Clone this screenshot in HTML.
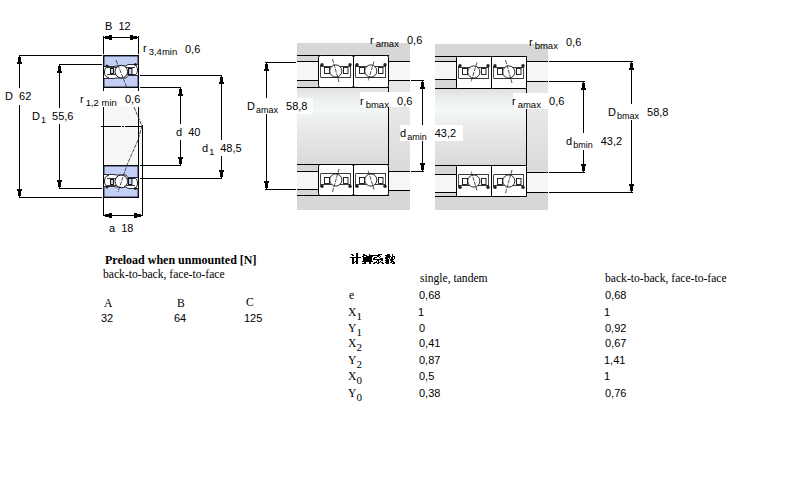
<!DOCTYPE html>
<html><head><meta charset="utf-8"><style>
html,body{margin:0;padding:0;background:#fff;width:800px;height:500px;overflow:hidden;position:relative}
.t{position:absolute;white-space:nowrap;line-height:normal;color:#000}
.sub{font-size:9px;position:relative;top:3px;margin-left:1px;margin-right:2px}
.s1{margin-right:0}
.sr{margin-left:2px;font-size:9.5px}
.subs{font-size:11px;position:relative;top:4px}
body.textonly svg{display:none}
svg.d{position:absolute;left:0;top:0}
</style></head><body>
<svg class="d" width="800" height="500" viewBox="0 0 800 500" shape-rendering="geometricPrecision">
<defs><linearGradient id="shaft" x1="0" y1="0" x2="0" y2="1">
<stop offset="0" stop-color="#e0e0e0"/><stop offset="0.12" stop-color="#eaeeee"/><stop offset="0.28" stop-color="#f3f7f7"/><stop offset="0.5" stop-color="#ebebeb"/><stop offset="1" stop-color="#d9d9d9"/></linearGradient>
<linearGradient id="shoulder" x1="0" y1="0" x2="0" y2="1"><stop offset="0" stop-color="#e6e6e6"/><stop offset="0.3" stop-color="#e8e8e8"/><stop offset="1" stop-color="#dadada"/></linearGradient></defs>
<rect x="104" y="107" width="38" height="58" fill="#f7f7f7"/>
<rect x="103" y="36" width="1" height="18" fill="#000"/>
<rect x="138" y="36" width="1" height="18" fill="#000"/>
<rect x="103" y="88" width="1" height="3" fill="#000"/>
<rect x="138" y="88" width="1" height="3" fill="#000"/>
<rect x="103" y="107" width="1" height="58" fill="#000"/>
<rect x="138" y="107" width="1" height="58" fill="#000"/>
<rect x="103" y="198" width="1" height="18" fill="#000"/>
<rect x="104" y="37" width="34" height="1" fill="#000"/>
<polygon points="104,37 104,38 105,38 105,39 109,39 109,40 112,40 112,35 109,35 109,36 105,36 105,37" fill="#000"/>
<polygon points="138,37 138,38 137,38 137,39 133,39 133,40 130,40 130,35 133,35 133,36 137,36 137,37" fill="#000"/>
<rect x="19" y="55" width="83" height="1" fill="#000"/>
<rect x="59" y="64" width="43" height="1" fill="#000"/>
<rect x="140" y="75" width="82" height="1" fill="#000"/>
<rect x="140" y="87" width="41" height="1" fill="#000"/>
<rect x="140" y="165" width="41" height="1" fill="#000"/>
<rect x="140" y="178" width="82" height="1" fill="#000"/>
<rect x="59" y="188" width="43" height="1" fill="#000"/>
<rect x="19" y="197" width="83" height="1" fill="#000"/>
<rect x="19" y="56" width="1" height="33" fill="#000"/>
<rect x="19" y="105" width="1" height="92" fill="#000"/>
<polygon points="19,56 20,56 20,57 21,57 21,62 22,62 22,64 17,64 17,62 18,62 18,57 19,57" fill="#000"/>
<polygon points="19,197 20,197 20,196 21,196 21,191 22,191 22,189 17,189 17,191 18,191 18,196 19,196" fill="#000"/>
<rect x="59" y="65" width="1" height="43" fill="#000"/>
<rect x="59" y="124" width="1" height="64" fill="#000"/>
<polygon points="59,65 60,65 60,66 61,66 61,71 62,71 62,73 57,73 57,71 58,71 58,66 59,66" fill="#000"/>
<polygon points="59,188 60,188 60,187 61,187 61,182 62,182 62,180 57,180 57,182 58,182 58,187 59,187" fill="#000"/>
<rect x="180" y="88" width="1" height="36" fill="#000"/>
<rect x="180" y="140" width="1" height="25" fill="#000"/>
<polygon points="180,88 181,88 181,89 182,89 182,94 183,94 183,96 178,96 178,94 179,94 179,89 180,89" fill="#000"/>
<polygon points="180,165 181,165 181,164 182,164 182,159 183,159 183,157 178,157 178,159 179,159 179,164 180,164" fill="#000"/>
<rect x="221" y="76" width="1" height="64" fill="#000"/>
<rect x="221" y="156" width="1" height="22" fill="#000"/>
<polygon points="221,76 222,76 222,77 223,77 223,82 224,82 224,84 219,84 219,82 220,82 220,77 221,77" fill="#000"/>
<polygon points="221,178 222,178 222,177 223,177 223,172 224,172 224,170 219,170 219,172 220,172 220,177 221,177" fill="#000"/>
<rect x="142" y="125" width="1" height="91" fill="#000"/>
<rect x="101" y="126" width="20" height="1" fill="#000"/>
<rect x="122" y="126" width="2" height="1" fill="#000"/>
<rect x="125" y="126" width="18" height="1" fill="#000"/>
<rect x="104" y="215" width="38" height="1" fill="#000"/>
<polygon points="104,215 104,216 105,216 105,217 109,217 109,218 112,218 112,213 109,213 109,214 105,214 105,215" fill="#000"/>
<polygon points="142,215 142,216 141,216 141,217 137,217 137,218 134,218 134,213 137,213 137,214 141,214 141,215" fill="#000"/>
<g transform="translate(103,88) scale(1,-1)">
<rect x="0.5" y="0.5" width="35" height="32" fill="#fff" stroke="#000"/>
<polygon points="1,1 35,1 35,12.5 25,12.5 23,10 13,10 11,9.5 1,9.5" fill="#c4cff5" stroke="#1a1a2a" stroke-width="0.9"/>
<polygon points="1,32 35,32 35,23.5 25,23.5 23,22 13,22 11,21.5 1,21.5" fill="#c4cff5" stroke="#1a1a2a" stroke-width="0.9"/>
<path d="M4,13.5 H13 M24,13.5 H32 M4,20.5 H32" stroke="#222" stroke-width="0.9" fill="none"/>
<rect x="7.5" y="14.5" width="3" height="5" fill="#c4cff5" stroke="#000" stroke-width="0.9"/>
<rect x="25.5" y="13.5" width="3.5" height="6" fill="#c4cff5" stroke="#000" stroke-width="0.9"/>
<circle cx="18.3" cy="16.4" r="6.3" fill="#fff" stroke="#000" stroke-width="0.9"/>
<path d="M6,10.5 Q1.5,10.5 1.5,16 Q1.5,21.5 6,21.5 M30,12.5 Q34.5,12.5 34.5,18 Q34.5,23.5 30,23.5" stroke="#222" stroke-width="1" fill="none"/>
<circle cx="4" cy="22" r="1.5" fill="#222"/><circle cx="32.5" cy="23.5" r="1.5" fill="#222"/>
</g>
<g transform="translate(103,165)">
<rect x="0.5" y="0.5" width="35" height="32" fill="#fff" stroke="#000"/>
<polygon points="1,1 35,1 35,12.5 25,12.5 23,10 13,10 11,9.5 1,9.5" fill="#c4cff5" stroke="#1a1a2a" stroke-width="0.9"/>
<polygon points="1,32 35,32 35,23.5 25,23.5 23,22 13,22 11,21.5 1,21.5" fill="#c4cff5" stroke="#1a1a2a" stroke-width="0.9"/>
<path d="M4,13.5 H13 M24,13.5 H32 M4,20.5 H32" stroke="#222" stroke-width="0.9" fill="none"/>
<rect x="7.5" y="14.5" width="3" height="5" fill="#c4cff5" stroke="#000" stroke-width="0.9"/>
<rect x="25.5" y="13.5" width="3.5" height="6" fill="#c4cff5" stroke="#000" stroke-width="0.9"/>
<circle cx="18.3" cy="16.4" r="6.3" fill="#fff" stroke="#000" stroke-width="0.9"/>
<path d="M6,10.5 Q1.5,10.5 1.5,16 Q1.5,21.5 6,21.5 M30,12.5 Q34.5,12.5 34.5,18 Q34.5,23.5 30,23.5" stroke="#222" stroke-width="1" fill="none"/>
<circle cx="4" cy="22" r="1.5" fill="#222"/><circle cx="32.5" cy="23.5" r="1.5" fill="#222"/>
</g>
<path d="M116,60 L127,88 M134,107 L142,126 L138,140 L127,165 L118,192" stroke="#283040" stroke-width="0.85" stroke-dasharray="4,1" fill="none"/>
<rect x="297" y="43" width="113" height="12" fill="#d7d7d7"/>
<rect x="389" y="55" width="21" height="6" fill="#d7d7d7"/>
<rect x="297" y="56" width="21" height="5" fill="#d7d7d7"/>
<rect x="297" y="81" width="21" height="6" fill="#d7d7d7"/>
<rect x="297" y="62" width="21" height="18" fill="#f6f6f6"/>
<rect x="389" y="62" width="21" height="18" fill="#f6f6f6"/>
<rect x="297" y="172" width="21" height="17" fill="#f6f6f6"/>
<rect x="389" y="172" width="21" height="18" fill="#f6f6f6"/>
<rect x="389" y="81" width="21" height="90" fill="url(#shoulder)"/>
<rect x="297" y="88" width="92" height="76" fill="url(#shaft)"/>
<rect x="297" y="165" width="21" height="6" fill="#d7d7d7"/>
<rect x="297" y="190" width="21" height="5" fill="#d7d7d7"/>
<rect x="297" y="196" width="92" height="14" fill="#d7d7d7"/>
<rect x="389" y="191" width="21" height="19" fill="#d7d7d7"/>
<rect x="297" y="55" width="92" height="1" fill="#000"/>
<rect x="297" y="61" width="22" height="1" fill="#000"/>
<rect x="297" y="80" width="22" height="1" fill="#000"/>
<rect x="297" y="87" width="92" height="1" fill="#000"/>
<rect x="389" y="61" width="21" height="1" fill="#000"/>
<rect x="389" y="80" width="21" height="1" fill="#000"/>
<rect x="297" y="164" width="92" height="1" fill="#000"/>
<rect x="297" y="171" width="22" height="1" fill="#000"/>
<rect x="297" y="189" width="22" height="1" fill="#000"/>
<rect x="297" y="195" width="92" height="1" fill="#000"/>
<rect x="389" y="171" width="21" height="1" fill="#000"/>
<rect x="389" y="190" width="21" height="1" fill="#000"/>
<rect x="388" y="87" width="1" height="78" fill="#000"/>
<rect x="435" y="44" width="113" height="12" fill="#d7d7d7"/>
<rect x="527" y="56" width="21" height="5" fill="#d7d7d7"/>
<rect x="435" y="57" width="21" height="4" fill="#d7d7d7"/>
<rect x="435" y="80" width="21" height="8" fill="#d7d7d7"/>
<rect x="435" y="62" width="21" height="17" fill="#f6f6f6"/>
<rect x="527" y="62" width="21" height="19" fill="#f6f6f6"/>
<rect x="435" y="175" width="21" height="17" fill="#f6f6f6"/>
<rect x="527" y="173" width="21" height="19" fill="#f6f6f6"/>
<rect x="527" y="82" width="21" height="90" fill="url(#shoulder)"/>
<rect x="435" y="89" width="92" height="76" fill="url(#shaft)"/>
<rect x="435" y="166" width="21" height="8" fill="#d7d7d7"/>
<rect x="435" y="193" width="21" height="3" fill="#d7d7d7"/>
<rect x="435" y="197" width="92" height="13" fill="#d7d7d7"/>
<rect x="527" y="193" width="21" height="17" fill="#d7d7d7"/>
<rect x="435" y="56" width="92" height="1" fill="#000"/>
<rect x="435" y="61" width="22" height="1" fill="#000"/>
<rect x="435" y="79" width="22" height="1" fill="#000"/>
<rect x="435" y="88" width="92" height="1" fill="#000"/>
<rect x="527" y="61" width="21" height="1" fill="#000"/>
<rect x="527" y="81" width="21" height="1" fill="#000"/>
<rect x="435" y="165" width="92" height="1" fill="#000"/>
<rect x="435" y="174" width="22" height="1" fill="#000"/>
<rect x="435" y="192" width="22" height="1" fill="#000"/>
<rect x="435" y="196" width="92" height="1" fill="#000"/>
<rect x="527" y="172" width="21" height="1" fill="#000"/>
<rect x="527" y="192" width="21" height="1" fill="#000"/>
<rect x="526" y="88" width="1" height="78" fill="#000"/>
<g transform="translate(318,55)">
<rect x="0.5" y="0.5" width="35" height="32" rx="2" fill="#fff" stroke="#000"/>
<path d="M3,11.5 H33 M2.5,22.5 H33" stroke="#222" stroke-width="0.9" fill="none"/>
<rect x="6.5" y="12.5" width="5" height="6" fill="#fff" stroke="#111" stroke-width="0.9"/>
<rect x="25.5" y="12.5" width="4.5" height="6" fill="#fff" stroke="#111" stroke-width="0.9"/>
<circle cx="17.8" cy="16" r="6.1" fill="#fff" stroke="#111" stroke-width="0.9"/>
<path d="M2.5,10 V22 M32.5,10.5 V22" stroke="#333" stroke-width="0.9"/>
<circle cx="4" cy="9.8" r="1.7" fill="#222"/><circle cx="32" cy="9.8" r="1.7" fill="#222"/>
<path d="M14.5,4 L21,27" stroke="#283040" stroke-width="0.85" stroke-dasharray="4,1"/>
</g>
<g transform="translate(353,55)">
<rect x="0.5" y="0.5" width="35" height="32" rx="2" fill="#fff" stroke="#000"/>
<path d="M3,11.5 H33 M2.5,22.5 H33" stroke="#222" stroke-width="0.9" fill="none"/>
<rect x="6.5" y="12.5" width="5" height="6" fill="#fff" stroke="#111" stroke-width="0.9"/>
<rect x="25.5" y="12.5" width="4.5" height="6" fill="#fff" stroke="#111" stroke-width="0.9"/>
<circle cx="17.8" cy="16" r="6.1" fill="#fff" stroke="#111" stroke-width="0.9"/>
<path d="M2.5,10 V22 M32.5,10.5 V22" stroke="#333" stroke-width="0.9"/>
<circle cx="4" cy="9.8" r="1.7" fill="#222"/><circle cx="32" cy="9.8" r="1.7" fill="#222"/>
<path d="M21,6.5 L15,26" stroke="#283040" stroke-width="0.85" stroke-dasharray="4,1"/>
</g>
<g transform="translate(318,196) scale(1,-1)">
<rect x="0.5" y="0.5" width="35" height="31" rx="2" fill="#fff" stroke="#000"/>
<path d="M3,11.5 H33 M2.5,22.5 H33" stroke="#222" stroke-width="0.9" fill="none"/>
<rect x="6.5" y="12.5" width="5" height="6" fill="#fff" stroke="#111" stroke-width="0.9"/>
<rect x="25.5" y="12.5" width="4.5" height="6" fill="#fff" stroke="#111" stroke-width="0.9"/>
<circle cx="17.8" cy="16" r="6.1" fill="#fff" stroke="#111" stroke-width="0.9"/>
<path d="M2.5,10 V22 M32.5,10.5 V22" stroke="#333" stroke-width="0.9"/>
<circle cx="4" cy="9.8" r="1.7" fill="#222"/><circle cx="32" cy="9.8" r="1.7" fill="#222"/>
<path d="M14.5,4 L21,27" stroke="#283040" stroke-width="0.85" stroke-dasharray="4,1"/>
</g>
<g transform="translate(353,196) scale(1,-1)">
<rect x="0.5" y="0.5" width="35" height="31" rx="2" fill="#fff" stroke="#000"/>
<path d="M3,11.5 H33 M2.5,22.5 H33" stroke="#222" stroke-width="0.9" fill="none"/>
<rect x="6.5" y="12.5" width="5" height="6" fill="#fff" stroke="#111" stroke-width="0.9"/>
<rect x="25.5" y="12.5" width="4.5" height="6" fill="#fff" stroke="#111" stroke-width="0.9"/>
<circle cx="17.8" cy="16" r="6.1" fill="#fff" stroke="#111" stroke-width="0.9"/>
<path d="M2.5,10 V22 M32.5,10.5 V22" stroke="#333" stroke-width="0.9"/>
<circle cx="4" cy="9.8" r="1.7" fill="#222"/><circle cx="32" cy="9.8" r="1.7" fill="#222"/>
<path d="M21,6.5 L15,26" stroke="#283040" stroke-width="0.85" stroke-dasharray="4,1"/>
</g>
<g transform="translate(456,56)">
<rect x="0.5" y="0.5" width="35" height="32" rx="0.8" fill="#fff" stroke="#000"/>
<path d="M3,11.5 H33 M2.5,22.5 H33" stroke="#222" stroke-width="0.9" fill="none"/>
<rect x="6.5" y="12.5" width="5" height="6" fill="#fff" stroke="#111" stroke-width="0.9"/>
<rect x="25.5" y="12.5" width="4.5" height="6" fill="#fff" stroke="#111" stroke-width="0.9"/>
<circle cx="17.8" cy="16" r="6.1" fill="#fff" stroke="#111" stroke-width="0.9"/>
<path d="M2.5,10 V22 M32.5,10.5 V22" stroke="#333" stroke-width="0.9"/>
<circle cx="4" cy="9.8" r="1.7" fill="#222"/><circle cx="32" cy="9.8" r="1.7" fill="#222"/>
<path d="M21,6.5 L15,26" stroke="#283040" stroke-width="0.85" stroke-dasharray="4,1"/>
</g>
<g transform="translate(491,56)">
<rect x="0.5" y="0.5" width="35" height="32" rx="0.8" fill="#fff" stroke="#000"/>
<path d="M3,11.5 H33 M2.5,22.5 H33" stroke="#222" stroke-width="0.9" fill="none"/>
<rect x="6.5" y="12.5" width="5" height="6" fill="#fff" stroke="#111" stroke-width="0.9"/>
<rect x="25.5" y="12.5" width="4.5" height="6" fill="#fff" stroke="#111" stroke-width="0.9"/>
<circle cx="17.8" cy="16" r="6.1" fill="#fff" stroke="#111" stroke-width="0.9"/>
<path d="M2.5,10 V22 M32.5,10.5 V22" stroke="#333" stroke-width="0.9"/>
<circle cx="4" cy="9.8" r="1.7" fill="#222"/><circle cx="32" cy="9.8" r="1.7" fill="#222"/>
<path d="M14.5,4 L21,27" stroke="#283040" stroke-width="0.85" stroke-dasharray="4,1"/>
</g>
<g transform="translate(456,197) scale(1,-1)">
<rect x="0.5" y="0.5" width="35" height="31" rx="0.8" fill="#fff" stroke="#000"/>
<path d="M3,11.5 H33 M2.5,22.5 H33" stroke="#222" stroke-width="0.9" fill="none"/>
<rect x="6.5" y="12.5" width="5" height="6" fill="#fff" stroke="#111" stroke-width="0.9"/>
<rect x="25.5" y="12.5" width="4.5" height="6" fill="#fff" stroke="#111" stroke-width="0.9"/>
<circle cx="17.8" cy="16" r="6.1" fill="#fff" stroke="#111" stroke-width="0.9"/>
<path d="M2.5,10 V22 M32.5,10.5 V22" stroke="#333" stroke-width="0.9"/>
<circle cx="4" cy="9.8" r="1.7" fill="#222"/><circle cx="32" cy="9.8" r="1.7" fill="#222"/>
<path d="M21,6.5 L15,26" stroke="#283040" stroke-width="0.85" stroke-dasharray="4,1"/>
</g>
<g transform="translate(491,197) scale(1,-1)">
<rect x="0.5" y="0.5" width="35" height="31" rx="0.8" fill="#fff" stroke="#000"/>
<path d="M3,11.5 H33 M2.5,22.5 H33" stroke="#222" stroke-width="0.9" fill="none"/>
<rect x="6.5" y="12.5" width="5" height="6" fill="#fff" stroke="#111" stroke-width="0.9"/>
<rect x="25.5" y="12.5" width="4.5" height="6" fill="#fff" stroke="#111" stroke-width="0.9"/>
<circle cx="17.8" cy="16" r="6.1" fill="#fff" stroke="#111" stroke-width="0.9"/>
<path d="M2.5,10 V22 M32.5,10.5 V22" stroke="#333" stroke-width="0.9"/>
<circle cx="4" cy="9.8" r="1.7" fill="#222"/><circle cx="32" cy="9.8" r="1.7" fill="#222"/>
<path d="M14.5,4 L21,27" stroke="#283040" stroke-width="0.85" stroke-dasharray="4,1"/>
</g>
<rect x="265" y="62" width="31" height="1" fill="#000"/>
<rect x="265" y="189" width="31" height="1" fill="#000"/>
<rect x="266" y="63" width="1" height="35" fill="#000"/>
<rect x="266" y="114" width="1" height="75" fill="#000"/>
<polygon points="266,63 267,63 267,64 268,64 268,69 269,69 269,71 264,71 264,69 265,69 265,64 266,64" fill="#000"/>
<polygon points="266,189 267,189 267,188 268,188 268,183 269,183 269,181 264,181 264,183 265,183 265,188 266,188" fill="#000"/>
<rect x="411" y="80" width="13" height="1" fill="#000"/>
<rect x="411" y="171" width="13" height="1" fill="#000"/>
<rect x="422" y="81" width="1" height="46" fill="#000"/>
<rect x="422" y="141" width="1" height="30" fill="#000"/>
<polygon points="422,81 423,81 423,82 424,82 424,87 425,87 425,89 420,89 420,87 421,87 421,82 422,82" fill="#000"/>
<polygon points="422,171 423,171 423,170 424,170 424,165 425,165 425,163 420,163 420,165 421,165 421,170 422,170" fill="#000"/>
<rect x="549" y="61" width="84" height="1" fill="#000"/>
<rect x="549" y="192" width="84" height="1" fill="#000"/>
<rect x="631" y="62" width="1" height="42" fill="#000"/>
<rect x="631" y="120" width="1" height="72" fill="#000"/>
<polygon points="631,62 632,62 632,63 633,63 633,68 634,68 634,70 629,70 629,68 630,68 630,63 631,63" fill="#000"/>
<polygon points="631,192 632,192 632,191 633,191 633,186 634,186 634,184 629,184 629,186 630,186 630,191 631,191" fill="#000"/>
<rect x="549" y="81" width="36" height="1" fill="#000"/>
<rect x="549" y="172" width="36" height="1" fill="#000"/>
<rect x="583" y="82" width="1" height="51" fill="#000"/>
<rect x="583" y="150" width="1" height="22" fill="#000"/>
<polygon points="583,82 584,82 584,83 585,83 585,88 586,88 586,90 581,90 581,88 582,88 582,83 583,83" fill="#000"/>
<polygon points="583,172 584,172 584,171 585,171 585,166 586,166 586,164 581,164 581,166 582,166 582,171 583,171" fill="#000"/>
<rect x="3" y="88" width="29" height="16" fill="#fff"/>
<rect x="31" y="108" width="43" height="16" fill="#fff"/>
<rect x="80" y="91" width="63" height="16" fill="#fff"/>
<rect x="173" y="124" width="29" height="16" fill="#fff"/>
<rect x="199" y="140" width="44" height="16" fill="#fff"/>
<rect x="246" y="98" width="67" height="16" fill="#fff"/>
<rect x="360" y="92" width="60" height="15" fill="#fff"/>
<rect x="400" y="125" width="63" height="16" fill="#fff"/>
<rect x="513" y="93" width="53" height="16" fill="#fff"/>
<rect x="563" y="133" width="60" height="16" fill="#fff"/>
<rect x="606" y="104" width="64" height="16" fill="#fff"/>
</svg>
<div class="t" id="t_B12" style="left:105px;top:20px;font-size:11px;font-family:'Liberation Sans', sans-serif;font-weight:normal">B&nbsp;&nbsp;12</div>
<div class="t" id="t_r34" style="left:143px;top:42px;font-size:11px;font-family:'Liberation Sans', sans-serif;font-weight:normal">r<span class="sub sr">3,4min</span></div>
<div class="t" id="t_v34" style="left:185px;top:43px;font-size:11px;font-family:'Liberation Sans', sans-serif;font-weight:normal">0,6</div>
<div class="t" id="t_D62" style="left:5px;top:90px;font-size:11px;font-family:'Liberation Sans', sans-serif;font-weight:normal">D&nbsp;&nbsp;62</div>
<div class="t" id="t_D1" style="left:32px;top:110px;font-size:11px;font-family:'Liberation Sans', sans-serif;font-weight:normal">D<span class="sub s1">1</span>&nbsp;&nbsp;55,6</div>
<div class="t" id="t_r12" style="left:80px;top:93px;font-size:11px;font-family:'Liberation Sans', sans-serif;font-weight:normal">r<span class="sub sr">1,2 min</span></div>
<div class="t" id="t_v12" style="left:125px;top:93px;font-size:11px;font-family:'Liberation Sans', sans-serif;font-weight:normal">0,6</div>
<div class="t" id="t_d40" style="left:176px;top:126px;font-size:11px;font-family:'Liberation Sans', sans-serif;font-weight:normal">d&nbsp;&nbsp;40</div>
<div class="t" id="t_d1" style="left:202px;top:142px;font-size:11px;font-family:'Liberation Sans', sans-serif;font-weight:normal">d<span class="sub s1">1</span>&nbsp;&nbsp;48,5</div>
<div class="t" id="t_a18" style="left:109px;top:222px;font-size:11px;font-family:'Liberation Sans', sans-serif;font-weight:normal">a&nbsp;&nbsp;18</div>
<div class="t" id="t_ramaxT" style="left:370px;top:34px;font-size:11px;font-family:'Liberation Sans', sans-serif;font-weight:normal">r<span class="sub sr">amax</span></div>
<div class="t" id="t_vramaxT" style="left:407px;top:34px;font-size:11px;font-family:'Liberation Sans', sans-serif;font-weight:normal">0,6</div>
<div class="t" id="t_Da" style="left:247px;top:100px;font-size:11px;font-family:'Liberation Sans', sans-serif;font-weight:normal">D<span class="sub">amax</span>&nbsp;&nbsp;58,8</div>
<div class="t" id="t_rbmaxM" style="left:360px;top:95px;font-size:11px;font-family:'Liberation Sans', sans-serif;font-weight:normal">r<span class="sub sr">bmax</span>&nbsp;&nbsp;0,6</div>
<div class="t" id="t_da" style="left:400px;top:127px;font-size:11px;font-family:'Liberation Sans', sans-serif;font-weight:normal">d<span class="sub">amin</span>&nbsp;&nbsp;43,2</div>
<div class="t" id="t_rbmaxT" style="left:529px;top:36px;font-size:11px;font-family:'Liberation Sans', sans-serif;font-weight:normal">r<span class="sub sr">bmax</span></div>
<div class="t" id="t_vrbmaxT" style="left:566px;top:36px;font-size:11px;font-family:'Liberation Sans', sans-serif;font-weight:normal">0,6</div>
<div class="t" id="t_ramaxM" style="left:512px;top:95px;font-size:11px;font-family:'Liberation Sans', sans-serif;font-weight:normal">r<span class="sub sr">amax</span>&nbsp;&nbsp;0,6</div>
<div class="t" id="t_db" style="left:566px;top:135px;font-size:11px;font-family:'Liberation Sans', sans-serif;font-weight:normal">d<span class="sub">bmin</span>&nbsp;&nbsp;43,2</div>
<div class="t" id="t_Db" style="left:608px;top:106px;font-size:11px;font-family:'Liberation Sans', sans-serif;font-weight:normal">D<span class="sub">bmax</span>&nbsp;&nbsp;58,8</div>
<div class="t" id="t_preload" style="left:105px;top:253px;font-size:12px;font-family:'Liberation Serif', serif;font-weight:bold">Preload when unmounted [N]</div>
<div class="t" id="t_btb1" style="left:103px;top:268px;font-size:11.6px;font-family:'Liberation Serif', serif;font-weight:normal">back-to-back, face-to-face</div>
<div class="t" id="t_A" style="left:104px;top:297px;font-size:11.6px;font-family:'Liberation Serif', serif;font-weight:normal">A</div>
<div class="t" id="t_B" style="left:177px;top:297px;font-size:11.6px;font-family:'Liberation Serif', serif;font-weight:normal">B</div>
<div class="t" id="t_C" style="left:246px;top:296px;font-size:11.6px;font-family:'Liberation Serif', serif;font-weight:normal">C</div>
<div class="t" id="t_32" style="left:101px;top:312px;font-size:11px;font-family:'Liberation Sans', sans-serif;font-weight:normal">32</div>
<div class="t" id="t_64" style="left:174px;top:312px;font-size:11px;font-family:'Liberation Sans', sans-serif;font-weight:normal">64</div>
<div class="t" id="t_125" style="left:244px;top:312px;font-size:11px;font-family:'Liberation Sans', sans-serif;font-weight:normal">125</div>
<div class="t" id="t_single" style="left:420px;top:272px;font-size:11.6px;font-family:'Liberation Serif', serif;font-weight:normal">single, tandem</div>
<div class="t" id="t_btb2" style="left:605px;top:272px;font-size:11.6px;font-family:'Liberation Serif', serif;font-weight:normal">back-to-back, face-to-face</div>
<div class="t" id="t_lab0" style="left:349px;top:289px;font-size:11.6px;font-family:'Liberation Serif', serif;font-weight:normal">e</div>
<div class="t" id="t_v1_0" style="left:419px;top:289px;font-size:11px;font-family:'Liberation Sans', sans-serif;font-weight:normal">0,68</div>
<div class="t" id="t_v2_0" style="left:605px;top:289px;font-size:11px;font-family:'Liberation Sans', sans-serif;font-weight:normal">0,68</div>
<div class="t" id="t_lab1" style="left:348px;top:306px;font-size:11.6px;font-family:'Liberation Serif', serif;font-weight:normal">X<span class="subs">1</span></div>
<div class="t" id="t_v1_1" style="left:418px;top:306px;font-size:11px;font-family:'Liberation Sans', sans-serif;font-weight:normal">1</div>
<div class="t" id="t_v2_1" style="left:604px;top:306px;font-size:11px;font-family:'Liberation Sans', sans-serif;font-weight:normal">1</div>
<div class="t" id="t_lab2" style="left:348px;top:322px;font-size:11.6px;font-family:'Liberation Serif', serif;font-weight:normal">Y<span class="subs">1</span></div>
<div class="t" id="t_v1_2" style="left:419px;top:322px;font-size:11px;font-family:'Liberation Sans', sans-serif;font-weight:normal">0</div>
<div class="t" id="t_v2_2" style="left:605px;top:322px;font-size:11px;font-family:'Liberation Sans', sans-serif;font-weight:normal">0,92</div>
<div class="t" id="t_lab3" style="left:348px;top:337px;font-size:11.6px;font-family:'Liberation Serif', serif;font-weight:normal">X<span class="subs">2</span></div>
<div class="t" id="t_v1_3" style="left:419px;top:337px;font-size:11px;font-family:'Liberation Sans', sans-serif;font-weight:normal">0,41</div>
<div class="t" id="t_v2_3" style="left:605px;top:337px;font-size:11px;font-family:'Liberation Sans', sans-serif;font-weight:normal">0,67</div>
<div class="t" id="t_lab4" style="left:348px;top:354px;font-size:11.6px;font-family:'Liberation Serif', serif;font-weight:normal">Y<span class="subs">2</span></div>
<div class="t" id="t_v1_4" style="left:419px;top:354px;font-size:11px;font-family:'Liberation Sans', sans-serif;font-weight:normal">0,87</div>
<div class="t" id="t_v2_4" style="left:604px;top:354px;font-size:11px;font-family:'Liberation Sans', sans-serif;font-weight:normal">1,41</div>
<div class="t" id="t_lab5" style="left:348px;top:370px;font-size:11.6px;font-family:'Liberation Serif', serif;font-weight:normal">X<span class="subs">0</span></div>
<div class="t" id="t_v1_5" style="left:419px;top:370px;font-size:11px;font-family:'Liberation Sans', sans-serif;font-weight:normal">0,5</div>
<div class="t" id="t_v2_5" style="left:604px;top:370px;font-size:11px;font-family:'Liberation Sans', sans-serif;font-weight:normal">1</div>
<div class="t" id="t_lab6" style="left:348px;top:387px;font-size:11.6px;font-family:'Liberation Serif', serif;font-weight:normal">Y<span class="subs">0</span></div>
<div class="t" id="t_v1_6" style="left:419px;top:387px;font-size:11px;font-family:'Liberation Sans', sans-serif;font-weight:normal">0,38</div>
<div class="t" id="t_v2_6" style="left:605px;top:387px;font-size:11px;font-family:'Liberation Sans', sans-serif;font-weight:normal">0,76</div>
<svg class="cjk" style="position:absolute;left:0;top:0" width="800" height="500" viewBox="0 0 800 500" shape-rendering="crispEdges"><g fill="#000"><rect x="356" y="253" width="2" height="1"/><rect x="351" y="254" width="2" height="1"/><rect x="356" y="254" width="2" height="1"/><rect x="352" y="255" width="2" height="1"/><rect x="356" y="255" width="2" height="1"/><rect x="356" y="256" width="2" height="1"/><rect x="350" y="257" width="11" height="1"/><rect x="352" y="258" width="2" height="1"/><rect x="356" y="258" width="2" height="1"/><rect x="352" y="259" width="2" height="1"/><rect x="356" y="259" width="2" height="1"/><rect x="352" y="260" width="2" height="1"/><rect x="356" y="260" width="2" height="1"/><rect x="352" y="261" width="2" height="1"/><rect x="355" y="261" width="3" height="1"/><rect x="352" y="262" width="3" height="1"/><rect x="356" y="262" width="2" height="1"/><rect x="352" y="263" width="2" height="1"/><rect x="356" y="263" width="2" height="1"/><rect x="363" y="254" width="2" height="1"/><rect x="369" y="254" width="1" height="1"/><rect x="363" y="255" width="4" height="1"/><rect x="369" y="255" width="4" height="1"/><rect x="362" y="256" width="2" height="1"/><rect x="366" y="256" width="7" height="1"/><rect x="363" y="257" width="9" height="1"/><rect x="363" y="258" width="9" height="1"/><rect x="363" y="259" width="9" height="1"/><rect x="363" y="260" width="9" height="1"/><rect x="362" y="261" width="11" height="1"/><rect x="364" y="262" width="2" height="1"/><rect x="369" y="262" width="2" height="1"/><rect x="362" y="263" width="4" height="1"/><rect x="369" y="263" width="2" height="1"/><rect x="378" y="254" width="4" height="1"/><rect x="373" y="255" width="7" height="1"/><rect x="377" y="256" width="2" height="1"/><rect x="380" y="256" width="1" height="1"/><rect x="374" y="257" width="3" height="1"/><rect x="379" y="257" width="1" height="1"/><rect x="373" y="258" width="2" height="1"/><rect x="380" y="258" width="3" height="1"/><rect x="373" y="259" width="10" height="1"/><rect x="377" y="260" width="2" height="1"/><rect x="381" y="260" width="2" height="1"/><rect x="376" y="261" width="1" height="1"/><rect x="378" y="261" width="1" height="1"/><rect x="380" y="261" width="1" height="1"/><rect x="374" y="262" width="3" height="1"/><rect x="378" y="262" width="2" height="1"/><rect x="381" y="262" width="2" height="1"/><rect x="373" y="263" width="2" height="1"/><rect x="377" y="263" width="2" height="1"/><rect x="382" y="263" width="2" height="1"/><rect x="387" y="254" width="3" height="1"/><rect x="392" y="254" width="1" height="1"/><rect x="385" y="255" width="5" height="1"/><rect x="392" y="255" width="1" height="1"/><rect x="386" y="256" width="5" height="1"/><rect x="392" y="256" width="3" height="1"/><rect x="385" y="257" width="5" height="1"/><rect x="391" y="257" width="2" height="1"/><rect x="394" y="257" width="1" height="1"/><rect x="385" y="258" width="3" height="1"/><rect x="389" y="258" width="1" height="1"/><rect x="391" y="258" width="2" height="1"/><rect x="394" y="258" width="1" height="1"/><rect x="386" y="259" width="3" height="1"/><rect x="390" y="259" width="4" height="1"/><rect x="385" y="260" width="4" height="1"/><rect x="390" y="260" width="3" height="1"/><rect x="386" y="261" width="3" height="1"/><rect x="391" y="261" width="3" height="1"/><rect x="385" y="262" width="4" height="1"/><rect x="390" y="262" width="2" height="1"/><rect x="393" y="262" width="2" height="1"/><rect x="386" y="263" width="3" height="1"/><rect x="392" y="263" width="3" height="1"/></g></svg>
</body></html>
